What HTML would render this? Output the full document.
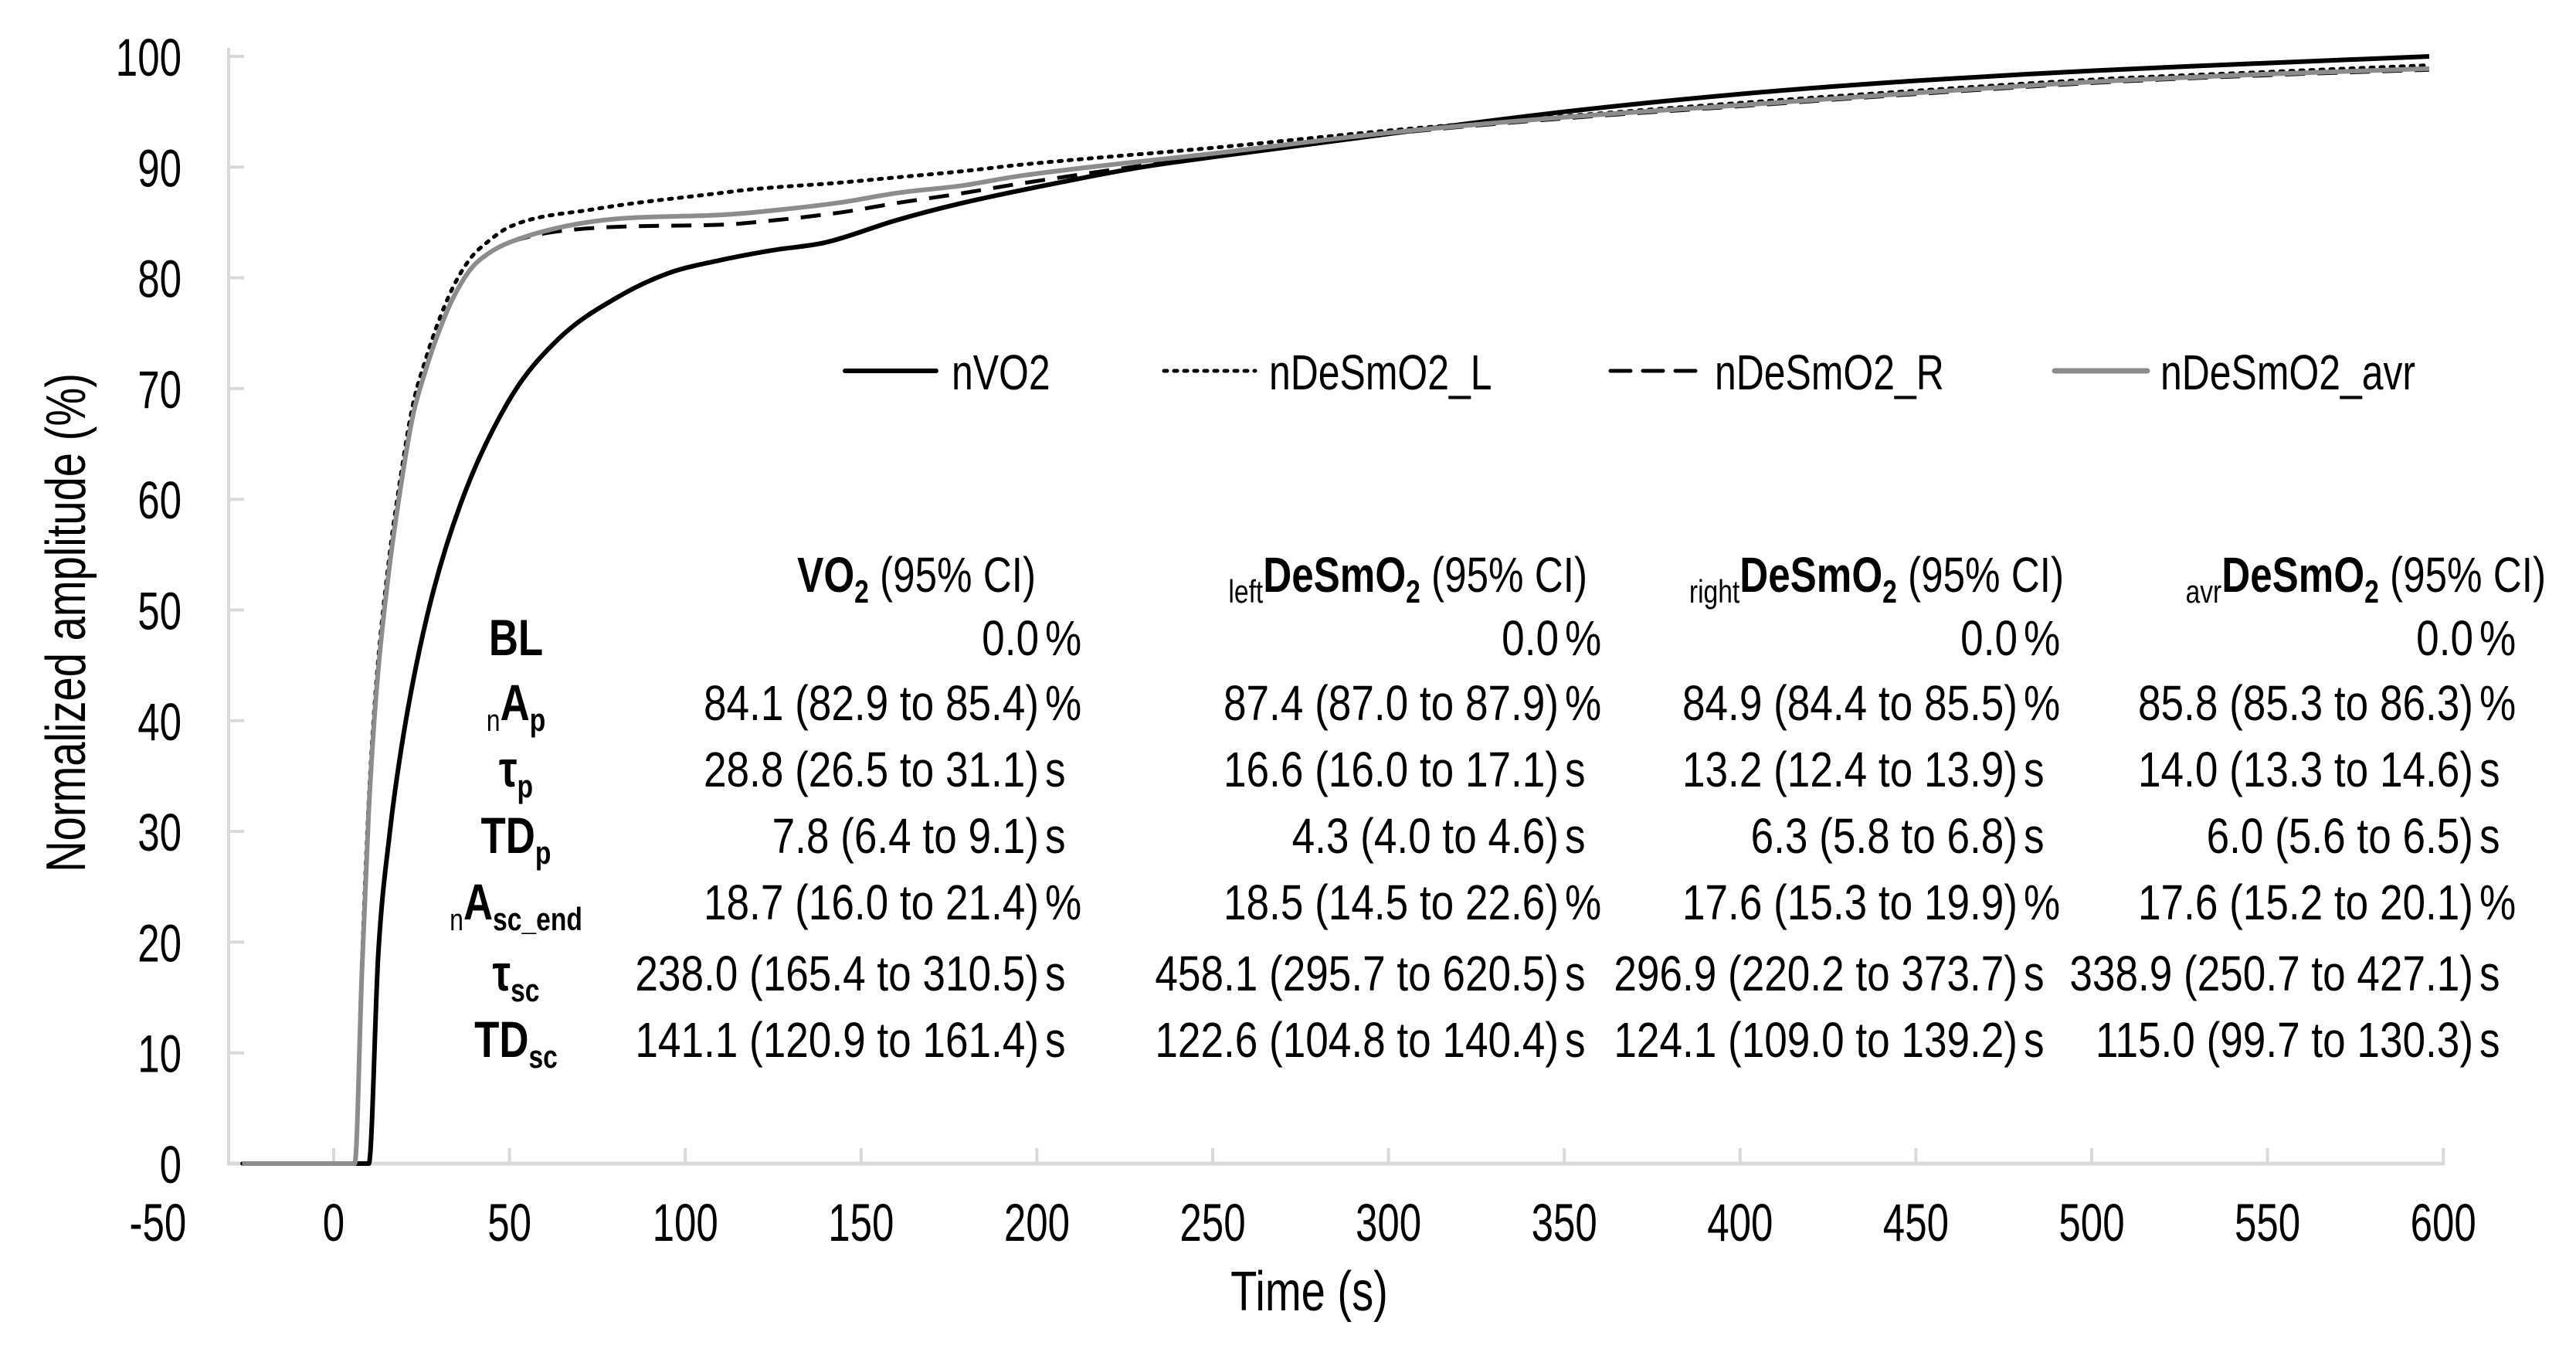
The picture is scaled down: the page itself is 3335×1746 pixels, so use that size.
<!DOCTYPE html>
<html><head><meta charset="utf-8"><style>
html,body{margin:0;padding:0;background:#fff;}
svg{display:block;font-family:"Liberation Sans",sans-serif;}
</style></head><body>
<svg id="chart" width="3335" height="1746" viewBox="0 0 3335 1746" xmlns="http://www.w3.org/2000/svg">
<rect width="3335" height="1746" fill="#fff"/>
<g id="axes"></g>
<g id="series"></g>
<g id="legend"></g>
<g id="table"></g>
</svg>
<script>
const xTicks = [-50,0,50,100,150,200,250,300,350,400,450,500,550,600];
const yTicks = [0,10,20,30,40,50,60,70,80,90,100];
const tVO2 = [-26,10,12.7,16,20,26.6,36,50,64,81,95,110,125,140,160,178,200,228,252,300,350,400,450,500,550,596];
const vVO2 = [0,0,19,30,39,49.5,59.5,69,74.5,78.3,80.4,81.6,82.5,83.2,85.2,86.7,88.2,89.9,91,93,95,96.6,97.8,98.7,99.4,100];
const tDeS = [-26,6,8,10,12,15.5,19,22.5,26,29.5,34,39,44,50,74,111,119,144,161,178,195,252,300,350,400,450,500,550,596];
const vL = [0,0,18,33,43,54,62,68.5,72.5,75.8,79.2,81.8,83.3,84.6,86.2,87.7,88,88.6,89.1,89.6,90.2,91.8,93.3,94.6,95.8,96.9,97.9,98.6,99.2];
const vR = [0,0,17,32,42,53,61,67.5,71.5,74.8,78.2,80.8,82.2,83.2,84.5,84.8,85,85.9,86.8,87.6,88.5,91.1,93,94.4,95.5,96.6,97.6,98.3,98.8];
const vAvr = [0,0,17,32,42,53,61,67.5,71.5,74.8,78.2,80.8,82.2,83.2,85.1,85.7,85.9,86.8,87.7,88.3,89.2,91.3,93.1,94.5,95.6,96.7,97.7,98.4,98.9];

const NS = "http://www.w3.org/2000/svg";
const X0 = 432, XS = 4.552;
const Y0 = 1506, YS = 14.33;
const sx = t => X0 + t*XS;
const sy = v => Y0 - v*YS;
function mk(tag, attrs, parent){ const e=document.createElementNS(NS,tag); for(const k in attrs) e.setAttribute(k,attrs[k]); parent.appendChild(e); return e; }
function txt(parent, x, y, s, size, anchor, weight, scale, content){
  const g = mk('g',{transform:`translate(${x},${y}) scale(${scale},1)`},parent);
  const t = mk('text',{x:0,y:0,'font-size':size,'text-anchor':anchor,'font-weight':weight||'normal',fill:'#000'},g);
  if(content) t.innerHTML = content; else t.textContent = s;
  return g;
}
const axes = document.getElementById('axes');
const yl = mk('line',{x1:296,y1:62,x2:296,y2:Y0,stroke:'#d9d9d9','stroke-width':4},axes);


const xl = mk('line',{x1:294,y1:Y0,x2:sx(600)+2,y2:Y0,stroke:'#d9d9d9','stroke-width':5},axes);


yTicks.forEach(v=>{
  if(v>0){ const tk=mk('line',{x1:296,y1:sy(v),x2:316,y2:sy(v),stroke:'#d9d9d9','stroke-width':4},axes);
  
   }
  const g=txt(axes,235,sy(v)+25,String(v),69,'end','normal',0.74);
  
  
});
xTicks.forEach(v=>{
  if(v>=0){ const tk=mk('line',{x1:sx(v),y1:Y0,x2:sx(v),y2:Y0-20,stroke:'#d9d9d9','stroke-width':4},axes);
  
   }
  const g=txt(axes,sx(v),1606,String(v),69,'middle','normal',0.74);
  
  
});
const yt = mk('g',{transform:'translate(110,806) rotate(-90) scale(0.78,1)'},axes);


mk('text',{x:0,y:0,'font-size':72,'text-anchor':'middle',fill:'#000'},yt).textContent='Normalized amplitude (%)';
const xt = txt(axes,1695,1696,'Time (s)',72,'middle','normal',0.78);



const series = document.getElementById('series');
function path(ts,vs){
  const X = ts.map(sx), Y = vs.map(sy), n = X.length;
  const d = [], m = new Array(n);
  for(let i=0;i<n-1;i++) d.push((Y[i+1]-Y[i])/(X[i+1]-X[i]));
  m[0]=d[0]; m[n-1]=d[n-2];
  for(let i=1;i<n-1;i++){ m[i] = (d[i-1]*d[i]<=0) ? 0 : (d[i-1]+d[i])/2; }
  for(let i=0;i<n-1;i++){
    if(d[i]===0){ m[i]=0; m[i+1]=0; continue; }
    const a=m[i]/d[i], b=m[i+1]/d[i], h=a*a+b*b;
    if(h>9){ const tt=3/Math.sqrt(h); m[i]=tt*a*d[i]; m[i+1]=tt*b*d[i]; }
  }
  let s = 'M'+X[0].toFixed(1)+','+Y[0].toFixed(1);
  for(let i=0;i<n-1;i++){
    const h=(X[i+1]-X[i])/3;
    s += ` C${(X[i]+h).toFixed(1)},${(Y[i]+m[i]*h).toFixed(1)} ${(X[i+1]-h).toFixed(1)},${(Y[i+1]-m[i+1]*h).toFixed(1)} ${X[i+1].toFixed(1)},${Y[i+1].toFixed(1)}`;
  }
  return s;
}
const sVO2 = mk('path',{d:path(tVO2,vVO2),fill:'none',stroke:'#000','stroke-width':6,'stroke-linejoin':'round'},series);


const sL = mk('path',{d:path(tDeS,vL),fill:'none',stroke:'#000','stroke-width':5,'stroke-dasharray':'4 9','stroke-linecap':'round'},series);


const sR = mk('path',{d:path(tDeS,vR),fill:'none',stroke:'#000','stroke-width':5,'stroke-dasharray':'26 16'},series);


const sA = mk('path',{d:path(tDeS,vAvr),fill:'none',stroke:'#8c8c8c','stroke-width':6,'stroke-linejoin':'round'},series);



const legend = document.getElementById('legend');
const legItems = [
 {x1:1094,x2:1212,tx:1232,label:'nVO2',stroke:'#000',dash:'',w:6},
 {x1:1507,x2:1625,tx:1643,label:'nDeSmO2_L',stroke:'#000',dash:'4 9',w:5},
 {x1:2085,x2:2202,tx:2220,label:'nDeSmO2_R',stroke:'#000',dash:'26 16',w:5},
 {x1:2660,x2:2780,tx:2797,label:'nDeSmO2_avr',stroke:'#8c8c8c',dash:'',w:7}
];
legItems.forEach(it=>{
  const g = mk('g',{},legend);
  
  
  const a={x1:it.x1,y1:480,x2:it.x2,y2:480,stroke:it.stroke,'stroke-width':it.w,'stroke-linecap':'round'};
  if(it.dash) a['stroke-dasharray']=it.dash;
  mk('line',a,g);
  txt(g,it.tx,504,it.label,64,'start','normal',0.78);
});

const table = document.getElementById('table');
const rowY = [848,932,1018,1104,1190,1282,1368];
const parenX = [1345,2018,2612,3202];
const headX = [1341,2055,2672,3296];
const B = (s)=>`<tspan font-weight="bold">${s}</tspan>`;
const headers = [
 `${B('VO')}<tspan font-size="42" dy="14" font-weight="bold">2</tspan><tspan dy="-14"> (95% CI)</tspan>`,
 `<tspan font-size="42" dy="14">left</tspan><tspan dy="-14" font-weight="bold">DeSmO</tspan><tspan font-size="42" dy="14" font-weight="bold">2</tspan><tspan dy="-14"> (95% CI)</tspan>`,
 `<tspan font-size="42" dy="14">right</tspan><tspan dy="-14" font-weight="bold">DeSmO</tspan><tspan font-size="42" dy="14" font-weight="bold">2</tspan><tspan dy="-14"> (95% CI)</tspan>`,
 `<tspan font-size="42" dy="14">avr</tspan><tspan dy="-14" font-weight="bold">DeSmO</tspan><tspan font-size="42" dy="14" font-weight="bold">2</tspan><tspan dy="-14"> (95% CI)</tspan>`
];
headers.forEach((h,i)=>{
  const g=txt(table,headX[i],766,'',64,'end','normal',0.8,h);
  
  
});
const rowLabels = [
 B('BL'),
 `<tspan font-size="40" dy="14">n</tspan><tspan dy="-14" font-weight="bold">A</tspan><tspan font-size="42" dy="14" font-weight="bold">p</tspan>`,
 `${B('τ')}<tspan font-size="42" dy="14" font-weight="bold">p</tspan>`,
 `${B('TD')}<tspan font-size="42" dy="14" font-weight="bold">p</tspan>`,
 `<tspan font-size="40" dy="14">n</tspan><tspan dy="-14" font-weight="bold">A</tspan><tspan font-size="42" dy="14" font-weight="bold">sc_end</tspan>`,
 `${B('τ')}<tspan font-size="42" dy="14" font-weight="bold">sc</tspan>`,
 `${B('TD')}<tspan font-size="42" dy="14" font-weight="bold">sc</tspan>`
];
rowLabels.forEach((h,i)=>{
  const g=txt(table,668,rowY[i],'',66,'middle','normal',0.8,h);
  
  
});
const units = ['%','%','s','s','%','s','s'];
const cells = [
 ['0.0','0.0','0.0','0.0'],
 ['84.1 (82.9 to 85.4)','87.4 (87.0 to 87.9)','84.9 (84.4 to 85.5)','85.8 (85.3 to 86.3)'],
 ['28.8 (26.5 to 31.1)','16.6 (16.0 to 17.1)','13.2 (12.4 to 13.9)','14.0 (13.3 to 14.6)'],
 ['7.8 (6.4 to 9.1)','4.3 (4.0 to 4.6)','6.3 (5.8 to 6.8)','6.0 (5.6 to 6.5)'],
 ['18.7 (16.0 to 21.4)','18.5 (14.5 to 22.6)','17.6 (15.3 to 19.9)','17.6 (15.2 to 20.1)'],
 ['238.0 (165.4 to 310.5)','458.1 (295.7 to 620.5)','296.9 (220.2 to 373.7)','338.9 (250.7 to 427.1)'],
 ['141.1 (120.9 to 161.4)','122.6 (104.8 to 140.4)','124.1 (109.0 to 139.2)','115.0 (99.7 to 130.3)']
];
cells.forEach((row,r)=>{
  row.forEach((c,ci)=>{
    const g=txt(table,parenX[ci],rowY[r],c,64,'end','normal',0.83);
    
    
    const u=txt(table,parenX[ci]+8,rowY[r],units[r],64,'start','normal',0.83);
    
    
  });
});
</script>
</body></html>
